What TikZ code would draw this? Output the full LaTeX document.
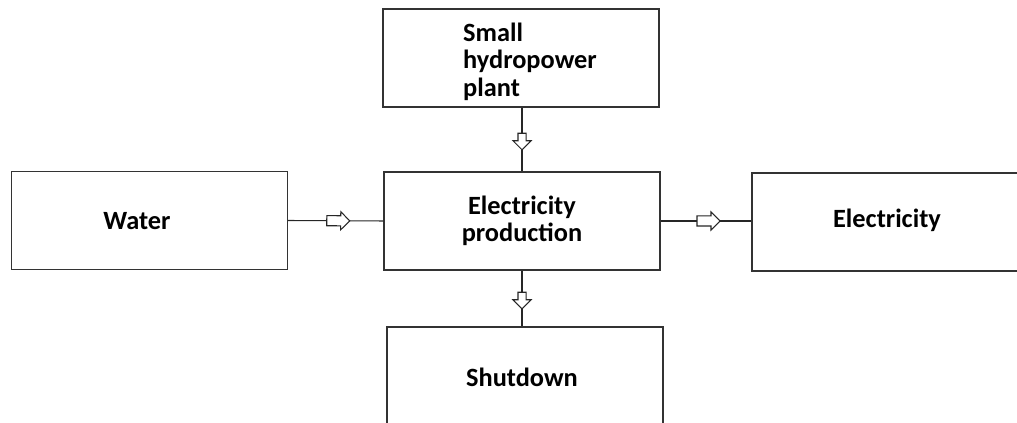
\documentclass[tikz,border=0pt]{standalone}
\usepackage{fontspec}
\setmainfont{Carlito}
\usetikzlibrary{shapes.arrows}
\tikzset{
  block/.style={draw=black!80, line width=0.7pt, minimum width=5.52cm, minimum height=1.96cm,
    font=\fontsize{15}{15.5}\selectfont\bfseries, inner sep=0pt},
  link/.style={draw=black!85, line width=0.6pt},
  flowarrow/.style={single arrow, draw=black!85, fill=white, line width=0.6pt, sloped,
    inner sep=0pt, inner ysep=0.09cm, minimum height=0.46cm, single arrow head extend=0.08cm},
  vflowarrow/.style={flowarrow, inner ysep=0.07cm, minimum height=0.33cm, single arrow head extend=0.1cm},
}
\begin{document}
\begin{tikzpicture}
\useasboundingbox (0,0) rectangle (20.34,8.46);
\node[block] (plant) at (10.42,7.30) {};
\node[align=left, font=\fontsize{15}{15.5}\selectfont\bfseries, anchor=north west] (plantlabel) at (9.14,8.12)
  {Small\\hydropower\\plant};
\node[block] (water) at (2.99,4.05) {};
\node[font=\fontsize{15}{15.5}\selectfont\bfseries] (waterlabel) at (2.74,4.03) {Water};
\node[block, align=center] (prod) at (10.44,4.04) {Electricity\\production};
\node[block] (elec) at (17.80,4.02) {};
\node[font=\fontsize{15}{15.5}\selectfont\bfseries] (eleclabel) at (17.74,4.06) {Electricity};
\node[block] (shut) at (10.50,0.94) {};
\node[font=\fontsize{15}{15.5}\selectfont\bfseries] (shutlabel) at (10.44,0.92) {Shutdown};
\draw[link] (water.east) -- node[flowarrow] {} (prod.west);
\draw[link] (prod.east) -- node[flowarrow] {} (prod.east -| elec.west);
\draw[link] (plant.south -| prod.north) -- node[vflowarrow] {} (prod.north);
\draw[link] (prod.south) -- node[vflowarrow] {} (prod.south |- shut.north);
\end{tikzpicture}
\end{document}
